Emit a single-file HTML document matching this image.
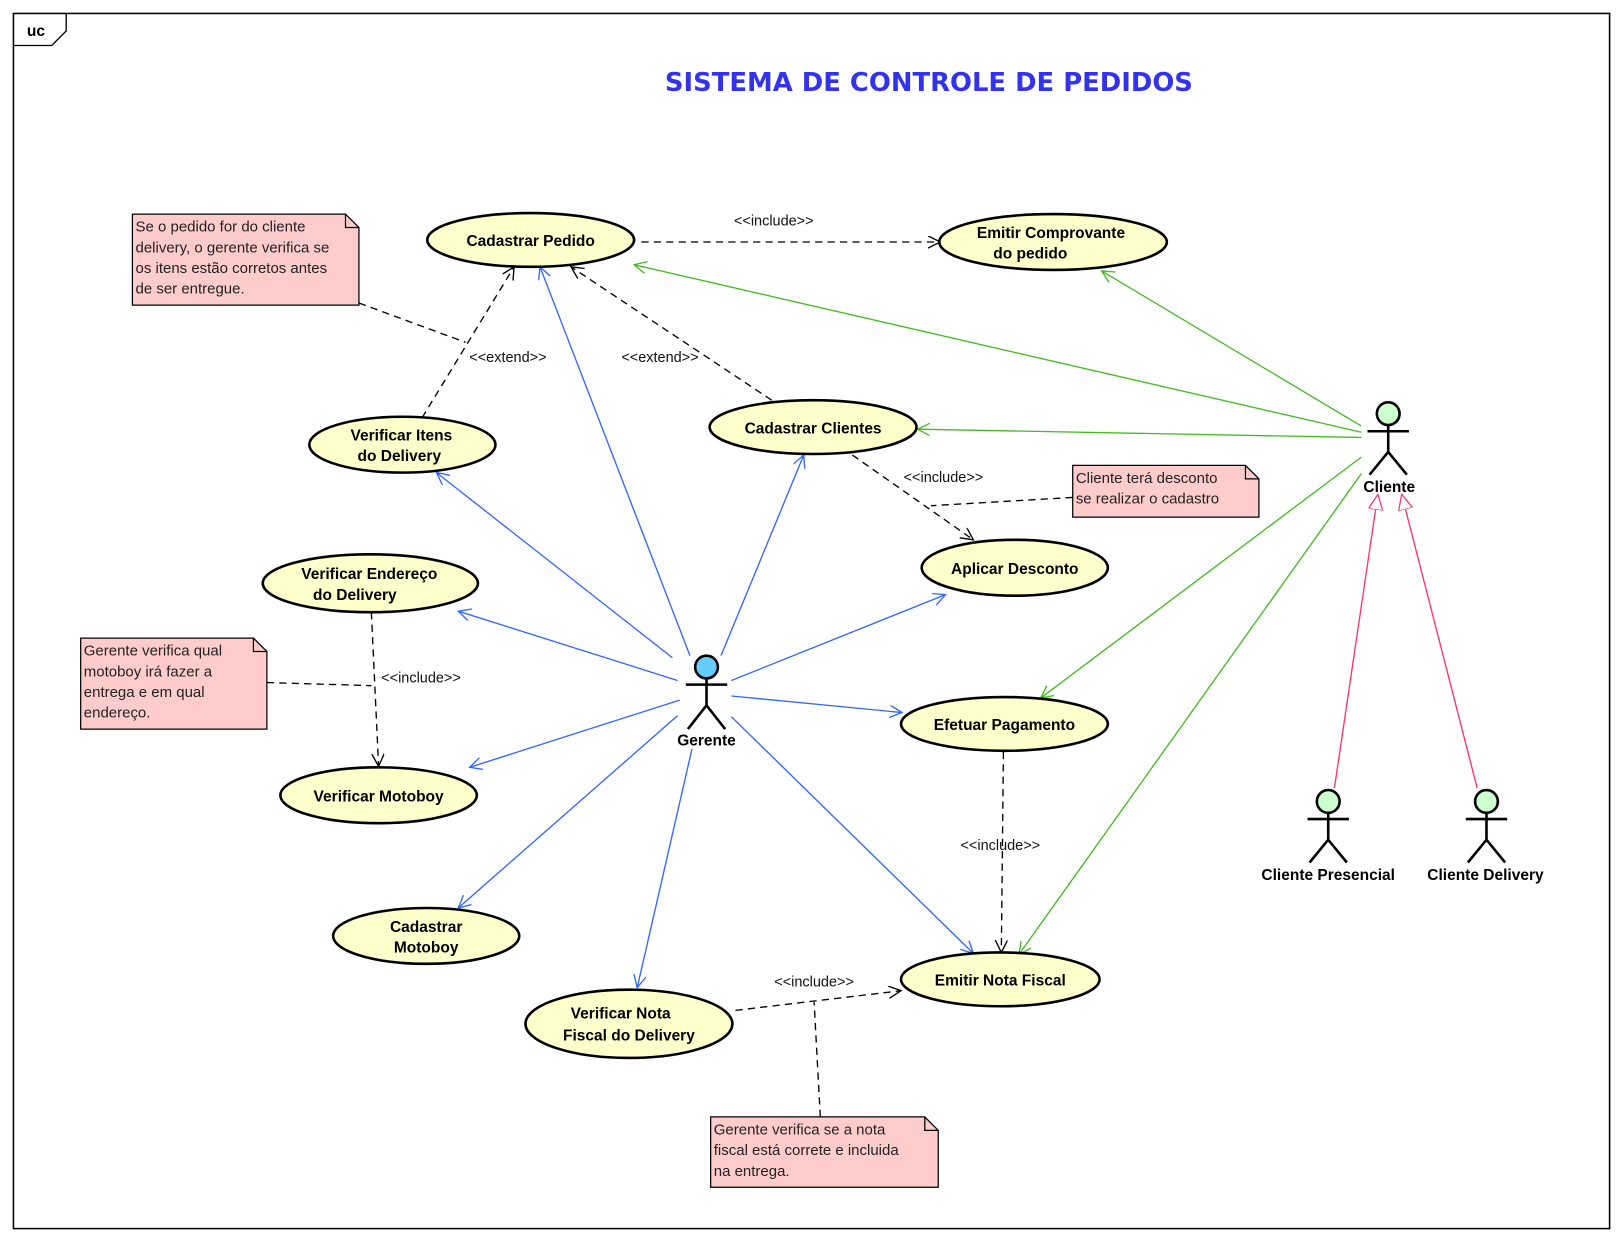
<!DOCTYPE html>
<html><head><meta charset="utf-8">
<style>
html,body{margin:0;padding:0;background:#fff;}
svg{display:block;}
text{font-family:"Liberation Sans",Arial,sans-serif;}
.uc{font-weight:bold;font-size:15px;fill:#000;}
.lbl{font-size:14px;fill:#111;}
.note{font-size:14.5px;fill:#222;}
</style></head><body>
<svg width="1622" height="1241" viewBox="0 0 1568 1200" preserveAspectRatio="none" xmlns="http://www.w3.org/2000/svg">
<defs>
<marker id="ab" markerWidth="14" markerHeight="14" refX="12" refY="6" orient="auto" markerUnits="userSpaceOnUse"><path d="M0,0 L12,6 L0,12" fill="none" stroke="#3366ff" stroke-width="1.3"/></marker>
<marker id="ag" markerWidth="14" markerHeight="14" refX="12" refY="6" orient="auto" markerUnits="userSpaceOnUse"><path d="M0,0 L12,6 L0,12" fill="none" stroke="#44bb22" stroke-width="1.3"/></marker>
<marker id="ak" markerWidth="14" markerHeight="14" refX="12" refY="6" orient="auto" markerUnits="userSpaceOnUse"><path d="M0,0 L12,6 L0,12" fill="none" stroke="#000" stroke-width="1.3"/></marker>
<marker id="tr" markerWidth="16" markerHeight="16" refX="15" refY="7" orient="auto" markerUnits="userSpaceOnUse"><path d="M0,0 L15,7 L0,14 Z" fill="#fff" stroke="#ff3366" stroke-width="1.2"/></marker>
</defs>
<rect width="1568" height="1200" fill="#fff"/>
<rect x="13" y="13" width="1543" height="1175" fill="none" stroke="#000" stroke-width="1.5"/>
<path d="M13,44 L50,44 L64,30 L64,13" fill="none" stroke="#000" stroke-width="1.3"/>
<text x="26" y="35" font-weight="bold" font-size="15">uc</text>
<text x="898" y="88" text-anchor="middle" font-weight="bold" font-size="25" fill="#3333ee" style="font-family:'DejaVu Sans',sans-serif">SISTEMA DE CONTROLE DE PEDIDOS</text>

<g stroke="#3366ff" stroke-width="1.3" fill="none">
<line x1="667" y1="634" x2="522" y2="258" marker-end="url(#ab)"/>
<line x1="650" y1="636" x2="422" y2="457" marker-end="url(#ab)"/>
<line x1="697" y1="634" x2="777" y2="440" marker-end="url(#ab)"/>
<line x1="655" y1="658" x2="443" y2="591" marker-end="url(#ab)"/>
<line x1="707" y1="658" x2="914" y2="575" marker-end="url(#ab)"/>
<line x1="657" y1="677" x2="454" y2="742" marker-end="url(#ab)"/>
<line x1="707" y1="673" x2="872" y2="689" marker-end="url(#ab)"/>
<line x1="655" y1="692" x2="443" y2="878" marker-end="url(#ab)"/>
<line x1="669" y1="724" x2="616" y2="955" marker-end="url(#ab)"/>
<line x1="707" y1="693" x2="941" y2="922" marker-end="url(#ab)"/>
</g>
<g stroke="#44bb22" stroke-width="1.3" fill="none">
<line x1="1316" y1="412" x2="1065" y2="262" marker-end="url(#ag)"/>
<line x1="1316" y1="418" x2="613" y2="256" marker-end="url(#ag)"/>
<line x1="1316" y1="423" x2="887" y2="415" marker-end="url(#ag)"/>
<line x1="1316" y1="442" x2="1006" y2="675" marker-end="url(#ag)"/>
<line x1="1316" y1="458" x2="985" y2="923" marker-end="url(#ag)"/>
</g>
<g stroke="#ff3366" stroke-width="1.3" fill="none">
<line x1="1290" y1="762" x2="1332" y2="478" marker-end="url(#tr)"/>
<line x1="1428" y1="762" x2="1355" y2="478" marker-end="url(#tr)"/>
</g>
<g stroke="#000" stroke-width="1.3" fill="none" stroke-dasharray="7,5">
<line x1="620" y1="234" x2="909" y2="234" marker-end="url(#ak)"/>
<line x1="408" y1="404" x2="497" y2="258" marker-end="url(#ak)"/>
<line x1="746" y1="387" x2="552" y2="258" marker-end="url(#ak)"/>
<line x1="824" y1="440" x2="941" y2="522" marker-end="url(#ak)"/>
<line x1="1037" y1="481" x2="900" y2="489"/>
<line x1="359" y1="592" x2="366" y2="741" marker-end="url(#ak)"/>
<line x1="258" y1="660" x2="359" y2="663"/>
<line x1="970" y1="727" x2="968" y2="921" marker-end="url(#ak)"/>
<line x1="711" y1="977" x2="871" y2="958" marker-end="url(#ak)"/>
<line x1="793" y1="1080" x2="787" y2="969"/>
<line x1="347" y1="293" x2="450" y2="331"/>
</g>
<text class="lbl" x="748" y="218" text-anchor="middle">&lt;&lt;include&gt;&gt;</text>
<text class="lbl" x="491" y="350" text-anchor="middle">&lt;&lt;extend&gt;&gt;</text>
<text class="lbl" x="638" y="350" text-anchor="middle">&lt;&lt;extend&gt;&gt;</text>
<text class="lbl" x="912" y="466" text-anchor="middle">&lt;&lt;include&gt;&gt;</text>
<text class="lbl" x="407" y="660" text-anchor="middle">&lt;&lt;include&gt;&gt;</text>
<text class="lbl" x="967" y="822" text-anchor="middle">&lt;&lt;include&gt;&gt;</text>
<text class="lbl" x="787" y="954" text-anchor="middle">&lt;&lt;include&gt;&gt;</text>

<g fill="#ffffcc" stroke="#000" stroke-width="2.5">
<ellipse cx="513" cy="232" rx="100" ry="26"/>
<ellipse cx="1018" cy="234" rx="110" ry="27"/>
<ellipse cx="786" cy="413" rx="100" ry="26"/>
<ellipse cx="389" cy="430" rx="90" ry="27"/>
<ellipse cx="981" cy="549" rx="90" ry="27"/>
<ellipse cx="358" cy="564" rx="104" ry="28"/>
<ellipse cx="971" cy="700" rx="100" ry="26"/>
<ellipse cx="366" cy="769" rx="95" ry="27"/>
<ellipse cx="412" cy="905" rx="90" ry="27"/>
<ellipse cx="967" cy="947" rx="96" ry="26"/>
<ellipse cx="608" cy="990" rx="100" ry="33"/>
</g>
<g text-anchor="middle">
<text class="uc" x="513" y="238">Cadastrar Pedido</text>
<text class="uc" x="1016" y="230">Emitir Comprovante</text>
<text class="uc" x="996" y="250">do pedido</text>
<text class="uc" x="786" y="419">Cadastrar Clientes</text>
<text class="uc" x="388" y="426">Verificar Itens</text>
<text class="uc" x="386" y="446">do Delivery</text>
<text class="uc" x="981" y="555">Aplicar Desconto</text>
<text class="uc" x="357" y="560">Verificar Endereço</text>
<text class="uc" x="343" y="580">do Delivery</text>
<text class="uc" x="971" y="706">Efetuar Pagamento</text>
<text class="uc" x="366" y="775">Verificar Motoboy</text>
<text class="uc" x="412" y="901">Cadastrar</text>
<text class="uc" x="412" y="921">Motoboy</text>
<text class="uc" x="967" y="953">Emitir Nota Fiscal</text>
<text class="uc" x="600" y="985">Verificar Nota</text>
<text class="uc" x="608" y="1006">Fiscal do Delivery</text>
</g>

<g stroke="#000" stroke-width="2.5" fill="none">
<circle cx="683" cy="645" r="11" fill="#66ccff"/>
<path d="M683,656 V682 M663,662 H703 M665,705 L683,682 L701,705"/>
<circle cx="1342" cy="400" r="11" fill="#ccffcc"/>
<path d="M1342,411 V437 M1322,417 H1362 M1324,459 L1342,437 L1360,459"/>
<circle cx="1284" cy="775" r="11" fill="#ccffcc"/>
<path d="M1284,786 V812 M1264,792 H1304 M1266,834 L1284,812 L1302,834"/>
<circle cx="1437" cy="775" r="11" fill="#ccffcc"/>
<path d="M1437,786 V812 M1417,792 H1457 M1419,834 L1437,812 L1455,834"/>
</g>
<text class="uc" x="683" y="721" text-anchor="middle">Gerente</text>
<text class="uc" x="1343" y="476" text-anchor="middle">Cliente</text>
<text class="uc" x="1284" y="851" text-anchor="middle">Cliente Presencial</text>
<text class="uc" x="1436" y="851" text-anchor="middle">Cliente Delivery</text>

<g fill="#ffcccc" stroke="#000" stroke-width="1.2">
<path d="M128,207 H334 L347,220 V295 H128 Z"/>
<path d="M1037,450 H1204 L1217,463 V500 H1037 Z"/>
<path d="M78,617 H245 L258,630 V705 H78 Z"/>
<path d="M687,1080 H894 L907,1093 V1148 H687 Z"/>
</g>
<g fill="none" stroke="#000" stroke-width="1.2">
<path d="M334,207 V220 H347"/><path d="M1204,450 V463 H1217"/><path d="M245,617 V630 H258"/><path d="M894,1080 V1093 H907"/>
</g>
<g>
<text class="note" x="131" y="224">Se o pedido for do cliente</text>
<text class="note" x="131" y="244">delivery, o gerente verifica se</text>
<text class="note" x="131" y="264">os itens estão corretos antes</text>
<text class="note" x="131" y="284">de ser entregue.</text>
<text class="note" x="1040" y="467">Cliente terá desconto</text>
<text class="note" x="1040" y="487">se realizar o cadastro</text>
<text class="note" x="81" y="634">Gerente verifica qual</text>
<text class="note" x="81" y="654">motoboy irá fazer a</text>
<text class="note" x="81" y="674">entrega e em qual</text>
<text class="note" x="81" y="694">endereço.</text>
<text class="note" x="690" y="1097">Gerente verifica se a nota</text>
<text class="note" x="690" y="1117">fiscal está correte e incluida</text>
<text class="note" x="690" y="1137">na entrega.</text>
</g>
</svg>
</body></html>
